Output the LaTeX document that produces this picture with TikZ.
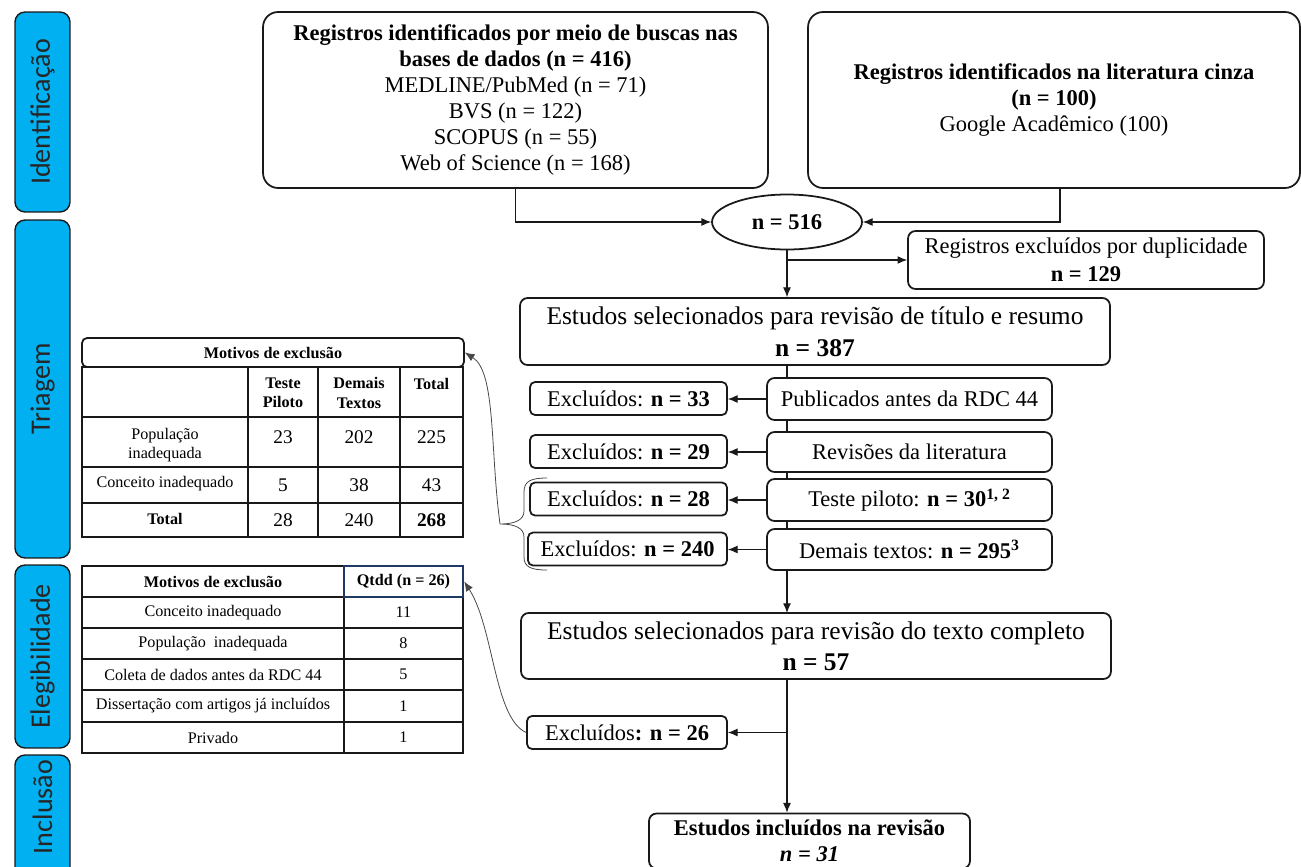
\documentclass[tikz,border=0pt]{standalone}
\usepackage{fontspec}
\setmainfont{Liberation Serif}
\newfontfamily\sidefont{Carlito}
\usetikzlibrary{arrows.meta,shapes.geometric}
\definecolor{sideblue}{RGB}{0,176,240}
\definecolor{navy}{RGB}{31,56,100}
\definecolor{ink}{RGB}{25,25,25}
\begin{document}
\begin{tikzpicture}[x=0.02cm,y=-0.02cm,
  fbox/.style={draw=ink, line width=1pt, fill=white, align=center, inner sep=0pt, rounded corners=0.15cm},
  fA/.style={font=\fontsize{12.8}{14.8}\selectfont},
  arr/.style={draw=ink, line width=0.6pt, -{Latex[length=5.5pt,width=4.5pt]}},
  thinarr/.style={draw=ink!80, line width=0.45pt, -{Latex[length=5.5pt,width=4.5pt]}},
  side/.style={draw=ink, line width=0.8pt, fill=sideblue, rounded corners=0.2cm},
  sidelab/.style={font=\sidefont\fontsize{16}{18}\selectfont, text=black!85},
  cell/.style={font=\fontsize{9.2}{11}\selectfont, align=center, inner sep=0pt},
  num/.style={font=\fontsize{11}{13}\selectfont, inner sep=0pt},
  grid/.style={draw=ink, line width=1.1pt}
]
\useasboundingbox (0,0) rectangle (1301,866);

% ---------- sidebar ----------
\node[side, sidelab, rotate=90, minimum width=4cm, minimum height=1.1cm] (sI) at (42.5,112) {Identificação};
\node[side, sidelab, rotate=90, minimum width=6.76cm, minimum height=1.1cm] (sT) at (42.5,389) {Triagem};
\node[side, sidelab, rotate=90, minimum width=3.66cm, minimum height=1.1cm] (sE) at (42.5,656.5) {Elegibilidade};
\draw[side] (15,755) rectangle (70,885);
\node[sidelab, rotate=90] (sInc) at (42.5,807) {Inclusão};

% ---------- identification ----------
\node[fbox, rounded corners=0.3cm, minimum width=10.1cm, minimum height=3.52cm, fA] (db) at (515.5,100)
  {\textbf{Registros identificados por meio de buscas nas}\\\textbf{bases de dados (n = 416)}\\MEDLINE/PubMed (n = 71)\\BVS (n = 122)\\SCOPUS (n = 55)\\Web of Science (n = 168)};
\node[fbox, rounded corners=0.3cm, minimum width=9.84cm, minimum height=3.52cm, font=\fontsize{12.8}{14.6}\selectfont] (grey) at (1054,100)
  {\textbf{Registros identificados na literatura cinza}\\\textbf{(n = 100)}\\Google Acadêmico (100)};
\node[draw=ink, line width=1pt, ellipse, fill=white, minimum width=3cm, minimum height=1.1cm, inner sep=0pt, fA] (tot) at (787,222) {\textbf{n = 516}};
\draw[arr] (db.south) |- (tot.west);
\draw[arr] ([xshift=0.12cm]grey.south) |- (tot.east);

\node[fbox, minimum width=7.12cm, minimum height=1.16cm, font=\fontsize{12.8}{16}\selectfont] (dup) at (1086,260)
  {Registros excluídos por duplicidade\\\textbf{n = 129}};

% ---------- screening ----------
\node[fbox, minimum width=11.8cm, minimum height=1.34cm, font=\fontsize{14.5}{18.2}\selectfont] (est1) at (815,331.5)
  {Estudos selecionados para revisão de título e resumo\\\textbf{n = 387}};
\draw[arr] (tot.south) -- (tot.south |- est1.north);
\draw[arr] (tot.south |- dup.west) -- (dup.west);

% main vertical line (behind the right column boxes)
\draw[arr] (tot.south |- est1.south) -- (tot.south |- 0,613) coordinate (e2top);

\node[fbox, minimum width=5.7cm, minimum height=0.84cm, fA] (pub) at (909.5,399) {Publicados antes da RDC 44};
\node[fbox, minimum width=5.7cm, minimum height=0.80cm, fA] (rev) at (909.5,452) {Revisões da literatura};
\node[fbox, minimum width=5.7cm, minimum height=0.84cm, fA] (pil) at (909.5,500) {Teste piloto: \textbf{n = 30\textsuperscript{1, 2}}};
\node[fbox, minimum width=5.7cm, minimum height=0.82cm, fA] (dem) at (909.5,549.5) {Demais textos: \textbf{n = 295\textsuperscript{3}}};

\node[fbox, rounded corners=0.1cm, minimum width=3.94cm, minimum height=0.66cm, fA] (ex33) at (628.5,398.5) {Excluídos: \textbf{n = 33}};
\node[fbox, rounded corners=0.1cm, minimum width=3.94cm, minimum height=0.66cm, fA] (ex29) at (628.5,451.5) {Excluídos: \textbf{n = 29}};
\node[fbox, rounded corners=0.1cm, minimum width=3.94cm, minimum height=0.66cm, fA] (ex28) at (628.5,499) {Excluídos: \textbf{n = 28}};
\node[fbox, rounded corners=0.1cm, minimum width=3.98cm, minimum height=0.66cm, fA] (ex240) at (627.5,549) {Excluídos: \textbf{n = 240}};

\draw[arr] (pub.west) -- (pub.west -| ex33.east);
\draw[arr] (rev.west) -- (rev.west -| ex29.east);
\draw[arr] (pil.west) -- (pil.west -| ex28.east);
\draw[arr] (dem.west) -- (dem.west -| ex240.east);

% brace
\coordinate (bt) at (500,524);
\draw[ink!80, line width=0.45pt] (547,478) .. controls (531,478) and (524,481) .. (524,492) -- (524,511)
  .. controls (524,520) and (515,524) .. (bt)
  .. controls (515,524) and (524,528) .. (524,537) -- (524,557)
  .. controls (524,567) and (531,570) .. (547,570);

% ---------- eligibility ----------
\node[fbox, minimum width=11.8cm, minimum height=1.32cm, font=\fontsize{14.5}{17.6}\selectfont] (est2) at (816,646)
  {Estudos selecionados para revisão do texto completo\\\textbf{n = 57}};
\node[fbox, rounded corners=0.1cm, minimum width=4cm, minimum height=0.66cm, fA] (ex26) at (627,732.5) {Excluídos\textbf{: n = 26}};
\node[fbox, minimum width=6.42cm, minimum height=1.1cm, font=\fontsize{12.8}{14.8}\selectfont] (inc) at (809.5,841)
  {\textbf{Estudos incluídos na revisão}\\\textbf{\textit{n = 31}}};
\draw[arr] (tot.south |- est2.south) -- (tot.south |- inc.north);
\draw[arr] (tot.south |- ex26.east) -- (ex26.east);

% ---------- table 1 (Triagem) ----------
\node[draw=ink, line width=1pt, rounded corners=0.1cm, fill=white, minimum width=7.64cm, minimum height=0.58cm, cell] (tt) at (273,352.5) {\textbf{Motivos de exclusão}};
\draw[grid] (82,367) rectangle (463,537);
\draw[grid] (82,417) -- (463,417) (82,467) -- (463,467) (82,503) -- (463,503);
\draw[grid] (248,367) -- (248,537) (318,367) -- (318,537) (400,367) -- (400,537);
\node[cell] (h1) at (283,393) {\textbf{Teste}\\\textbf{Piloto}};
\node[cell] (h2) at (359,393) {\textbf{Demais}\\\textbf{Textos}};
\node[cell] (h3) at (431.5,384) {\textbf{Total}};
\node[cell] (r1) at (165,445) {População\\inadequada};
\node[num] (r1a) at (283,437) {23};
\node[num] (r1b) at (359,437) {202};
\node[num] (r1c) at (431.5,437) {225};
\node[cell] (r2) at (165,484) {Conceito inadequado};
\node[num] (r2a) at (283,485) {5};
\node[num] (r2b) at (359,485) {38};
\node[num] (r2c) at (431.5,485) {43};
\node[cell] (r3) at (165,519) {\textbf{Total}};
\node[num] (r3a) at (283,520) {28};
\node[num] (r3b) at (359,520) {240};
\node[num] (r3c) at (431.5,520) {\textbf{268}};

\draw[thinarr] (bt) .. controls (490,450) and (496,372) .. (tt.east);

% ---------- table 2 (Elegibilidade) ----------
\draw[grid] (82,566) rectangle (463,753);
\draw[grid] (82,597) -- (463,597) (82,628) -- (463,628) (82,659) -- (463,659) (82,690) -- (463,690) (82,722) -- (463,722);
\draw[grid] (344,566) -- (344,753);
\node[cell] (m0) at (213,581.5) {\textbf{Motivos de exclusão}};
\node[cell, draw=navy, line width=1.4pt, minimum width=2.38cm, minimum height=0.62cm] (qt) at (403.5,581.5) {\textbf{Qtdd (n = 26)}};
\node[cell] (m1) at (213,612.5) {Conceito inadequado};
\node[cell] (q1) at (403.5,612.5) {11};
\node[cell] (m2) at (213,643.5) {População\ \ inadequada};
\node[cell] (q2) at (403.5,643.5) {8};
\node[cell] (m3) at (213,674.5) {Coleta de dados antes da RDC 44};
\node[cell] (q3) at (403.5,674.5) {5};
\node[cell] (m4) at (213,706) {Dissertação com artigos já incluídos};
\node[cell] (q4) at (403.5,706) {1};
\node[cell] (m5) at (213,737.5) {Privado};
\node[cell] (q5) at (403.5,737.5) {1};

\draw[thinarr] (ex26.west) .. controls (494,718) and (494,628) .. (qt.east);
\end{tikzpicture}
\end{document}
